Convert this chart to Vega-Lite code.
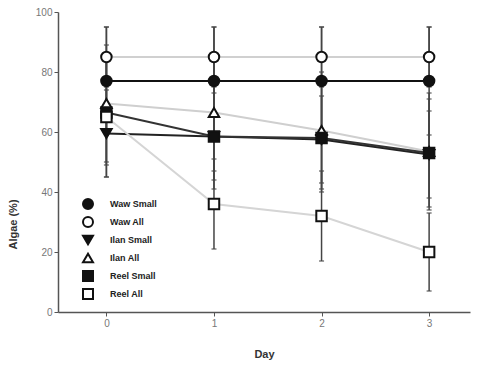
{
  "$schema": "https://vega.github.io/schema/vega-lite/v6.json",
  "width": 412,
  "height": 300,
  "autosize": "none",
  "padding": {"left": 58, "top": 12, "right": 10, "bottom": 56},
  "background": "white",
  "config": {
    "view": {"stroke": null},
    "font": "Liberation Sans",
    "axis": {"grid": false, "domainColor": "#555", "domainWidth": 1.5, "tickColor": "#555", "tickSize": 4, "labelColor": "#777", "labelFontSize": 10, "titleFontSize": 11, "titleFontWeight": "bold", "titleColor": "#333"},
    "legend": {"labelFontSize": 9, "labelFontWeight": "bold", "labelColor": "#222", "symbolSize": 100, "symbolStrokeWidth": 2, "rowPadding": 0, "labelOffset": 16}
  },
  "data": {"values": [
    {"Series": "Waw Small", "Day": 0, "Algae": 77, "Lo": 59, "Hi": 95},
    {"Series": "Waw Small", "Day": 1, "Algae": 77, "Lo": 59, "Hi": 95},
    {"Series": "Waw Small", "Day": 2, "Algae": 77, "Lo": 59, "Hi": 95},
    {"Series": "Waw Small", "Day": 3, "Algae": 77, "Lo": 59, "Hi": 95},
    {"Series": "Waw All", "Day": 0, "Algae": 85, "Lo": 75, "Hi": 95},
    {"Series": "Waw All", "Day": 1, "Algae": 85, "Lo": 75, "Hi": 95},
    {"Series": "Waw All", "Day": 2, "Algae": 85, "Lo": 75, "Hi": 95},
    {"Series": "Waw All", "Day": 3, "Algae": 85, "Lo": 75, "Hi": 95},
    {"Series": "Ilan Small", "Day": 0, "Algae": 59.5, "Lo": 45, "Hi": 74},
    {"Series": "Ilan Small", "Day": 1, "Algae": 58.5, "Lo": 44, "Hi": 73},
    {"Series": "Ilan Small", "Day": 2, "Algae": 57.5, "Lo": 43, "Hi": 72},
    {"Series": "Ilan Small", "Day": 3, "Algae": 52.5, "Lo": 38, "Hi": 67},
    {"Series": "Ilan All", "Day": 0, "Algae": 69.5, "Lo": 50, "Hi": 89},
    {"Series": "Ilan All", "Day": 1, "Algae": 66.5, "Lo": 47, "Hi": 86},
    {"Series": "Ilan All", "Day": 2, "Algae": 60.5, "Lo": 41, "Hi": 80},
    {"Series": "Ilan All", "Day": 3, "Algae": 53.5, "Lo": 34, "Hi": 73},
    {"Series": "Reel Small", "Day": 0, "Algae": 66.5, "Lo": 49, "Hi": 84},
    {"Series": "Reel Small", "Day": 1, "Algae": 58.5, "Lo": 41, "Hi": 76},
    {"Series": "Reel Small", "Day": 2, "Algae": 58, "Lo": 40, "Hi": 76},
    {"Series": "Reel Small", "Day": 3, "Algae": 53, "Lo": 35, "Hi": 71},
    {"Series": "Reel All", "Day": 0, "Algae": 65, "Lo": 45, "Hi": 85},
    {"Series": "Reel All", "Day": 1, "Algae": 36, "Lo": 21, "Hi": 51},
    {"Series": "Reel All", "Day": 2, "Algae": 32, "Lo": 17, "Hi": 47},
    {"Series": "Reel All", "Day": 3, "Algae": 20, "Lo": 7, "Hi": 33}
  ]},
  "encoding": {
    "x": {"field": "Day", "type": "quantitative", "scale": {"domain": [-0.45, 3.38], "nice": false, "zero": false}, "axis": {"values": [0, 1, 2, 3], "title": "Day", "titleY": 36}}
  },
  "layer": [
    {
      "mark": {"type": "line", "strokeWidth": 2},
      "encoding": {
        "y": {"field": "Algae", "type": "quantitative", "scale": {"domain": [0, 100], "nice": false}, "axis": {"values": [0, 20, 40, 60, 80, 100], "title": "Algae (%)", "titleX": -40, "titleY": 212}},
        "color": {"field": "Series", "type": "nominal", "scale": {"domain": ["Waw Small", "Waw All", "Ilan Small", "Ilan All", "Reel Small", "Reel All"], "range": ["#111", "#d0d0d0", "#222", "#cfcfcf", "#333", "#d5d5d5"]}, "legend": null},
        "detail": {"field": "Series"}
      }
    },
    {
      "mark": {"type": "rule", "color": "#444", "strokeWidth": 1.5},
      "encoding": {
        "y": {"field": "Lo", "type": "quantitative"},
        "y2": {"field": "Hi"}
      }
    },
    {
      "mark": {"type": "tick", "color": "#444", "size": 5, "thickness": 1.5, "orient": "horizontal"},
      "encoding": {"y": {"field": "Lo", "type": "quantitative"}}
    },
    {
      "mark": {"type": "tick", "color": "#444", "size": 5, "thickness": 1.5, "orient": "horizontal"},
      "encoding": {"y": {"field": "Hi", "type": "quantitative"}}
    },
    {
      "mark": {"type": "point", "filled": false, "strokeWidth": 2, "size": 110, "opacity": 1},
      "encoding": {
        "y": {"field": "Algae", "type": "quantitative"},
        "shape": {
          "field": "Series",
          "type": "nominal",
          "scale": {"domain": ["Waw Small", "Waw All", "Ilan Small", "Ilan All", "Reel Small", "Reel All"], "range": ["circle", "circle", "triangle-down", "triangle-up", "square", "square"]},
          "legend": {"title": null, "orient": "none", "legendX": 24, "legendY": 186}
        },
        "fill": {
          "field": "Series",
          "type": "nominal",
          "scale": {"domain": ["Waw Small", "Waw All", "Ilan Small", "Ilan All", "Reel Small", "Reel All"], "range": ["#111", "#fff", "#111", "#fff", "#111", "#fff"]},
          "legend": {"title": null, "orient": "none", "legendX": 24, "legendY": 186}
        },
        "stroke": {
          "field": "Series",
          "type": "nominal",
          "scale": {"domain": ["Waw Small", "Waw All", "Ilan Small", "Ilan All", "Reel Small", "Reel All"], "range": ["#111", "#111", "#111", "#111", "#111", "#111"]},
          "legend": {"title": null, "orient": "none", "legendX": 24, "legendY": 186}
        }
      }
    }
  ],
  "resolve": {"scale": {"color": "independent"}}
}
